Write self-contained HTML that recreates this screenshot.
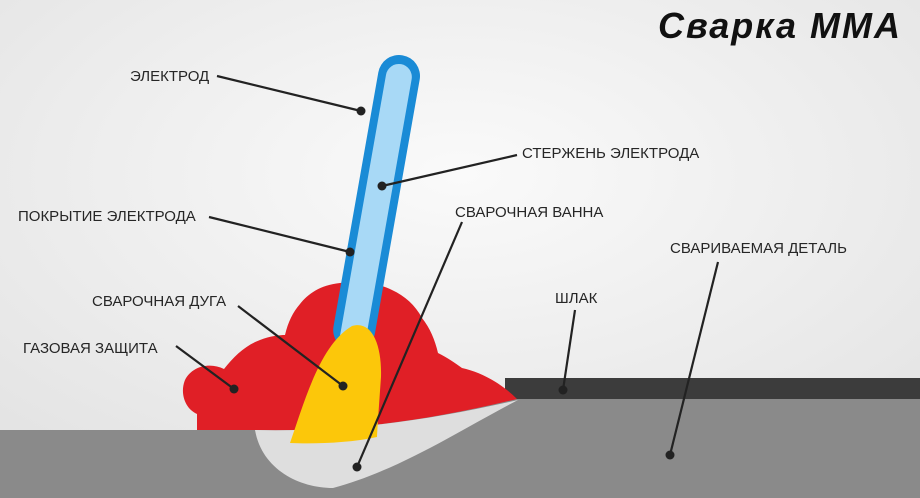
<!DOCTYPE html>
<html><head><meta charset="utf-8"><style>
html,body{margin:0;padding:0;width:920px;height:498px;overflow:hidden}
svg{display:block}
text{font-family:"Liberation Sans",sans-serif;font-size:15px;fill:#262626}
</style></head><body>
<svg width="920" height="498" viewBox="0 0 920 498" xmlns="http://www.w3.org/2000/svg">
<defs>
<radialGradient id="bg" cx="0.5" cy="0.35" r="0.7">
<stop offset="0" stop-color="#fafafa"/><stop offset="1" stop-color="#e4e4e4"/>
</radialGradient>
</defs>
<rect width="920" height="498" fill="url(#bg)"/>
<!-- plate -->
<path d="M0 430 L260 430 L510 398 L920 398 L920 498 L0 498 Z" fill="#8a8a8a"/>
<rect x="505" y="378" width="415" height="21" fill="#3c3c3c"/>
<!-- red cloud -->
<path d="M197 430 L197 414 C184 408 180 392 185 380 C192 366 210 362 224 369 C234 356 246 345 260 340 C270 336 280 335 285 335 C288 322 293 312 300 304 C308 294 320 285 340 283 C360 281 378 283 392 290 C405 296 415 305 422 318 C430 328 435 340 438 353 C448 358 455 363 462 368 C480 372 500 382 517 399 C430 420 350 432 255 430 Z" fill="#e01f26"/>
<!-- pool -->
<path d="M255 430 C262 470 300 488 333 488 C400 470 460 430 518 400 C430 420 350 432 255 430 Z" fill="#dedede"/>
<!-- electrode -->
<g transform="translate(399,76) rotate(10)">
<rect x="-21" y="-21" width="42" height="300" rx="21" fill="#1a8bd6"/>
<rect x="-13" y="-12" width="26" height="290" rx="13" fill="#a8d9f6"/>
</g>
<!-- yellow arc -->
<path d="M290 443 C305 400 320 345 352 326 C372 320 382 345 381 377 C379 405 378 420 377 437 C350 443 315 444 290 443 Z" fill="#fcc70a"/>
<!-- leaders -->
<g stroke="#222" stroke-width="2.2" fill="none">
<line x1="217" y1="76" x2="361" y2="111"/>
<line x1="517" y1="155" x2="382" y2="186"/>
<line x1="209" y1="217" x2="350" y2="252"/>
<line x1="462" y1="222" x2="357" y2="467"/>
<line x1="718" y1="262" x2="670" y2="455"/>
<line x1="575" y1="310" x2="563" y2="390"/>
<line x1="238" y1="306" x2="343" y2="386"/>
<line x1="176" y1="346" x2="234" y2="389"/>
</g>
<g fill="#222">
<circle cx="361" cy="111" r="4.5"/><circle cx="382" cy="186" r="4.5"/>
<circle cx="350" cy="252" r="4.5"/><circle cx="357" cy="467" r="4.5"/>
<circle cx="670" cy="455" r="4.5"/><circle cx="563" cy="390" r="4.5"/>
<circle cx="343" cy="386" r="4.5"/><circle cx="234" cy="389" r="4.5"/>
</g>
<text x="130" y="81">ЭЛЕКТРОД</text>
<text x="522" y="158">СТЕРЖЕНЬ ЭЛЕКТРОДА</text>
<text x="18" y="221">ПОКРЫТИЕ ЭЛЕКТРОДА</text>
<text x="455" y="217">СВАРОЧНАЯ ВАННА</text>
<text x="670" y="253">СВАРИВАЕМАЯ ДЕТАЛЬ</text>
<text x="555" y="303">ШЛАК</text>
<text x="92" y="306">СВАРОЧНАЯ ДУГА</text>
<text x="23" y="353">ГАЗОВАЯ ЗАЩИТА</text>
<text x="658" y="38" style="font-size:36px;font-weight:bold;font-style:italic;fill:#111;letter-spacing:2px">Сварка ММА</text>
</svg>
</body></html>
